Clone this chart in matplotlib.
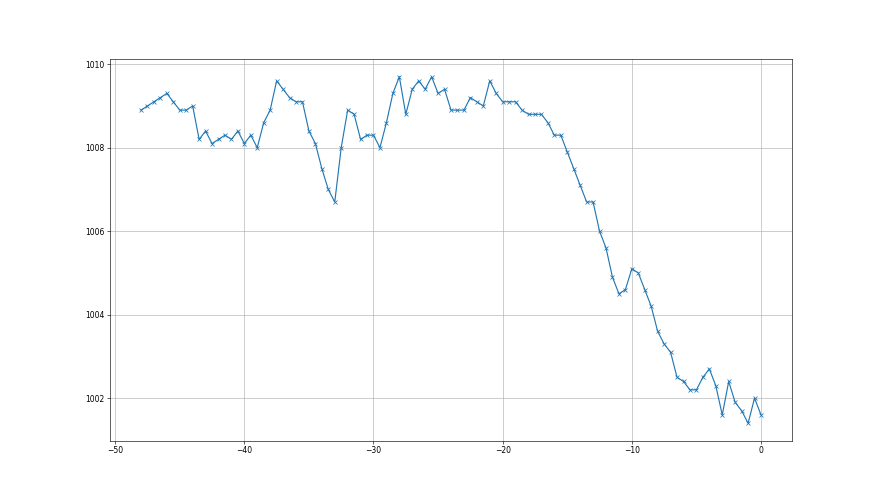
import numpy as np
import matplotlib
matplotlib.use("Agg")
import matplotlib.pyplot as plt

# time offsets (hours), step 0.5 from -48 to 0
hours = [-48 + 0.5 * i for i in range(97)]

pressure = [
    1008.9, 1009.0, 1009.1, 1009.2, 1009.3, 1009.1, 1008.9, 1008.9, 1009.0, 1008.2,
    1008.4, 1008.1, 1008.2, 1008.3, 1008.2, 1008.4, 1008.1, 1008.3, 1008.0, 1008.6,
    1008.9, 1009.6, 1009.4, 1009.2, 1009.1, 1009.1, 1008.4, 1008.1, 1007.5, 1007.0,
    1006.7, 1008.0, 1008.9, 1008.8, 1008.2, 1008.3, 1008.3, 1008.0, 1008.6, 1009.3,
    1009.7, 1008.8, 1009.4, 1009.6, 1009.4, 1009.7, 1009.3, 1009.4, 1008.9, 1008.9,
    1008.9, 1009.2, 1009.1, 1009.0, 1009.6, 1009.3, 1009.1, 1009.1, 1009.1, 1008.9,
    1008.8, 1008.8, 1008.8, 1008.6, 1008.3, 1008.3, 1007.9, 1007.5, 1007.1, 1006.7,
    1006.7, 1006.0, 1005.6, 1004.9, 1004.5, 1004.6, 1005.1, 1005.0, 1004.6, 1004.2,
    1003.6, 1003.3, 1003.1, 1002.5, 1002.4, 1002.2, 1002.2, 1002.5, 1002.7, 1002.3,
    1001.6, 1002.4, 1001.9, 1001.7, 1001.4, 1002.0, 1001.6,
]

fig, ax = plt.subplots(figsize=(16, 9), dpi=55)
ax.plot(hours, pressure, marker="x", color="#1f77b4")
ax.set_yticks([1002, 1004, 1006, 1008, 1010])
ax.grid(True)
fig.savefig("out.png", dpi=55)
